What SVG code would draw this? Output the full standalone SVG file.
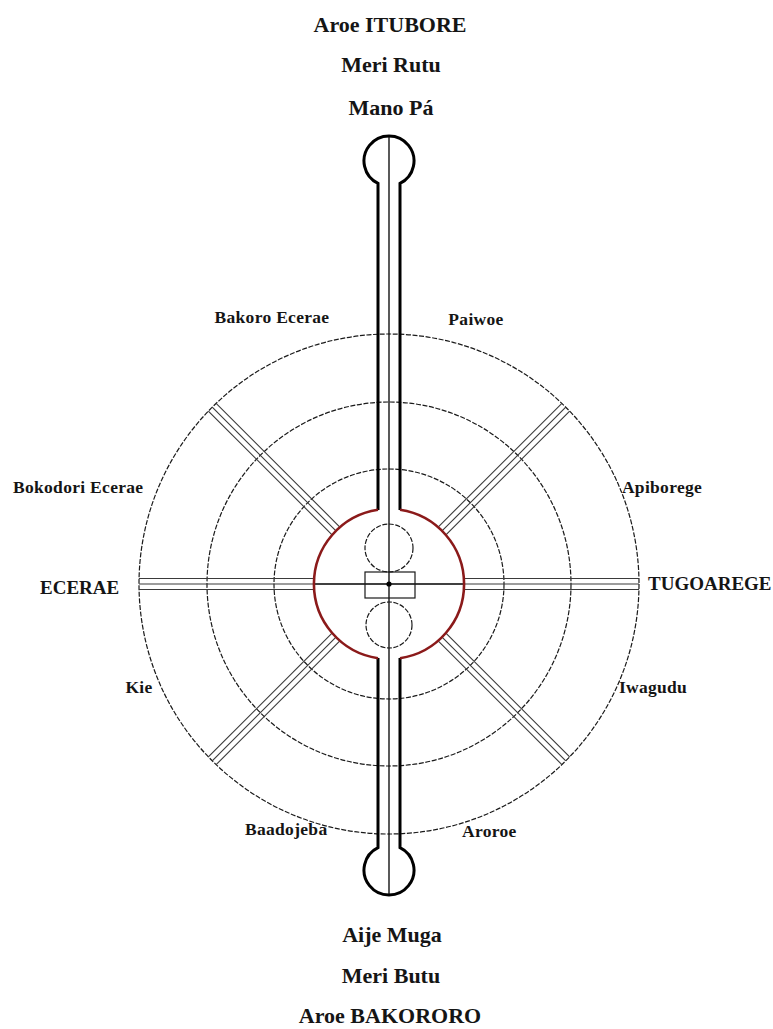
<svg xmlns="http://www.w3.org/2000/svg" xmlns:xlink="http://www.w3.org/1999/xlink" width="773" height="1029" viewBox="0 0 773 1029">
<style>
.lbl{font-family:"Liberation Serif","Times New Roman",serif;font-weight:bold;fill:#151515}
.big{font-size:22px}
.mid{font-size:19px}
.sm{font-size:17.5px;letter-spacing:0.3px}
.ring{fill:none;stroke:#1a1a1a;stroke-width:1.2;stroke-dasharray:5 1.6}
.band{stroke:#3a3a3a;stroke-width:1.1}
.stem{fill:none;stroke:#000;stroke-width:3}
.red{fill:none;stroke:#8b1a1a;stroke-width:2.6}
.thin{stroke:#000;stroke-width:1.3;fill:none}
</style>
<defs>
<g id="bandR">
<line class="band" x1="464" y1="578.5" x2="639" y2="578.5"/>
<line class="band" x1="464" y1="584" x2="639" y2="584"/>
<line class="band" x1="464" y1="589.5" x2="639" y2="589.5"/>
</g>
</defs>
<rect width="773" height="1029" fill="#fff"/>
<g id="rings">
<circle class="ring" cx="389" cy="584" r="250"/>
<circle class="ring" cx="389" cy="584" r="182"/>
<circle class="ring" cx="389" cy="584" r="115"/>
</g>
<g id="connectors">
<use xlink:href="#bandR"/>
<use xlink:href="#bandR" transform="rotate(180 389 584)"/>
<use xlink:href="#bandR" transform="rotate(45 389 584)"/>
<use xlink:href="#bandR" transform="rotate(135 389 584)"/>
<use xlink:href="#bandR" transform="rotate(225 389 584)"/>
<use xlink:href="#bandR" transform="rotate(315 389 584)"/>
<line class="thin" x1="314" y1="584" x2="464" y2="584"/>
<line class="thin" x1="389" y1="136" x2="389" y2="895"/>
</g>
<g id="stem-top">
<path class="stem" d="M378,510 L378,183.4 A25,25 0 1 1 400,183.4 L400,510"/>
</g>
<g id="stem-bottom">
<path class="stem" d="M378,658 L378,847.6 A25,25 0 1 0 400,847.6 L400,658"/>
</g>
<g id="center-ring">
<path class="red" d="M378,509.8 A75,75 0 0 0 378,658.2"/>
<path class="red" d="M400,509.8 A75,75 0 0 1 400,658.2"/>
</g>
<g id="center">
<circle class="ring" cx="389" cy="548" r="24"/>
<circle class="ring" cx="389" cy="625" r="23"/>
<rect x="365" y="572" width="50" height="26" fill="none" stroke="#1a1a1a" stroke-width="1.2"/>
<circle cx="389" cy="584" r="2.6" fill="#000"/>
</g>
<g id="labels">
<text class="lbl big" x="390" y="32" text-anchor="middle">Aroe ITUBORE</text>
<text class="lbl big" x="391" y="72" text-anchor="middle">Meri Rutu</text>
<text class="lbl big" x="391" y="115" text-anchor="middle">Mano Pá</text>
<text class="lbl big" x="392" y="942" text-anchor="middle">Aije Muga</text>
<text class="lbl big" x="391" y="983" text-anchor="middle">Meri Butu</text>
<text class="lbl big" x="390" y="1023" text-anchor="middle">Aroe BAKORORO</text>
<text class="lbl mid" x="40" y="594">ECERAE</text>
<text class="lbl mid" x="648" y="590">TUGOAREGE</text>
<text class="lbl sm" x="272" y="323" text-anchor="middle">Bakoro Ecerae</text>
<text class="lbl sm" x="476" y="325" text-anchor="middle">Paiwoe</text>
<text class="lbl sm" x="13" y="493">Bokodori Ecerae</text>
<text class="lbl sm" x="662" y="493" text-anchor="middle">Apiborege</text>
<text class="lbl sm" x="139" y="693" text-anchor="middle">Kie</text>
<text class="lbl sm" x="653" y="693" text-anchor="middle">Iwagudu</text>
<text class="lbl sm" x="245" y="835">Baadojeba</text>
<text class="lbl sm" x="462" y="837">Aroroe</text>
</g>
</svg>
